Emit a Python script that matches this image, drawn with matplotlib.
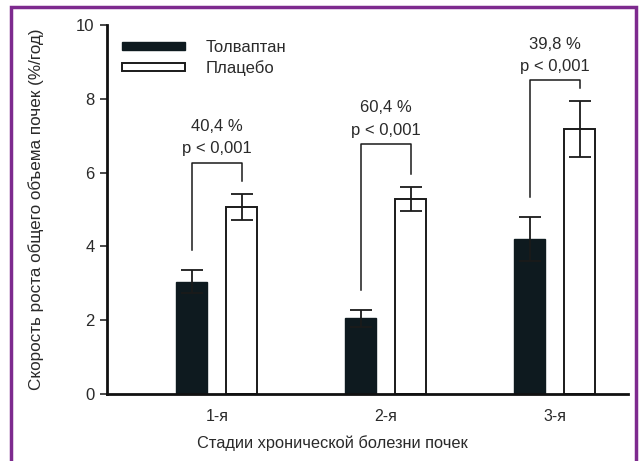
import matplotlib.pyplot as plt
import numpy as np
from matplotlib.patches import Rectangle

plt.rcParams['font.family'] = ['Liberation Sans', 'DejaVu Sans']

# Data
stages = ['1-я', '2-я', '3-я']
tolvaptan = [3.05, 2.05, 4.2]
tolvaptan_err = [0.3, 0.22, 0.6]
placebo = [5.07, 5.28, 7.18]
placebo_err = [0.36, 0.33, 0.75]
reductions = ['40,4 %', '60,4 %', '39,8 %']
p_values = ['p < 0,001', 'p < 0,001', 'p < 0,001']
bracket_tops = [6.26, 6.77, 8.5]

fig = plt.figure(figsize=(6.4, 4.61), dpi=100)
ax = fig.add_axes([0.167, 0.145, 0.814, 0.801])

ind = np.arange(len(stages))
width = 0.183
off = 0.148
txt = '#2a2a2a'

ax.bar(ind - off, tolvaptan, width, color='#0e1a1f', edgecolor='#0e1a1f',
       label='Толваптан', zorder=2)
ax.bar(ind + off, placebo, width, color='white', edgecolor='#1a1a1a',
       linewidth=1.4, label='Плацебо', zorder=2)
ax.errorbar(ind - off, tolvaptan, yerr=tolvaptan_err, fmt='none',
            ecolor='#1a1a1a', elinewidth=1.3, capsize=8, capthick=1.3, zorder=3)
ax.errorbar(ind + off, placebo, yerr=placebo_err, fmt='none',
            ecolor='#1a1a1a', elinewidth=1.3, capsize=8, capthick=1.3, zorder=3)

# significance brackets
for i in range(len(stages)):
    top = bracket_tops[i]
    lb = tolvaptan[i] + tolvaptan_err[i] + 0.55
    rb = placebo[i] + placebo_err[i] + 0.35
    ax.plot([i - off, i - off, i + off, i + off], [lb, top, top, rb],
            color='#1a1a1a', lw=1.1, zorder=3)
    ax.text(i, top + 0.98, reductions[i], ha='center', va='center',
            fontsize=12, color=txt)
    ax.text(i, top + 0.38, p_values[i], ha='center', va='center',
            fontsize=12, color=txt)

ax.set_xlim(-0.651, 2.432)
ax.set_ylim(0, 10)
ax.set_yticks([0, 2, 4, 6, 8, 10])
ax.set_xticks(ind)
ax.set_xticklabels(stages)
ax.tick_params(axis='x', length=0, pad=11, labelsize=11.5, colors=txt)
ax.tick_params(axis='y', length=5, width=1.2, pad=4, labelsize=12, colors=txt)
for s in ['top', 'right']:
    ax.spines[s].set_visible(False)
for s in ['left', 'bottom']:
    ax.spines[s].set_linewidth(2)
    ax.spines[s].set_color('#111111')

ax.set_ylabel('Скорость роста общего объема почек (%/год)', fontsize=12.3,
              color=txt)
ax.yaxis.set_label_coords(-0.12, 0.5)
fig.text(0.52, 1 - 443 / 461, 'Стадии хронической болезни почек',
         ha='center', va='center', fontsize=11.8, color=txt)

ax.legend(loc='upper left', bbox_to_anchor=(0.0, 1.0), frameon=False,
          fontsize=12, handlelength=3.8, handleheight=0.4, handletextpad=1.2,
          labelspacing=0.3, labelcolor=txt)

# purple frame
fig.patches.append(Rectangle((11 / 640, -0.05), 625 / 640, 1 - 7 / 461 + 0.05,
                             transform=fig.transFigure, fill=False,
                             edgecolor='#7d2a8e', linewidth=2.5))

fig.savefig('out.png', dpi=100)
